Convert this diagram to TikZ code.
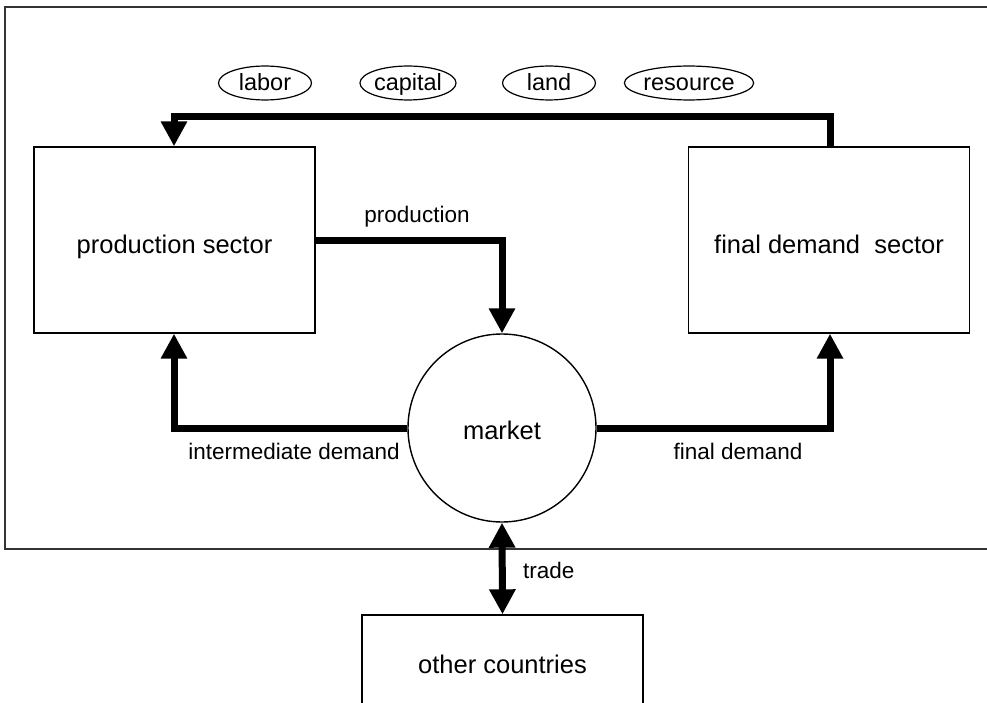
\documentclass[tikz,border=0pt]{standalone}
\usepackage{fontspec}
\setmainfont{Liberation Sans}
\usetikzlibrary{arrows.meta,shapes.geometric}

\tikzset{
  box/.style={draw, line width=1.4pt, minimum width=281pt, minimum height=186pt,
    inner sep=0pt, text height=32pt, text depth=5.5pt,
    font=\fontsize{25.5}{30}\selectfont},
  oval/.style={draw, ellipse, line width=1.2pt, minimum width=93pt, minimum height=33pt,
    inner sep=0pt, text height=20pt, text depth=4pt,
    font=\fontsize{23.5}{27}\selectfont},
  lbl/.style={font=\fontsize{22.5}{27}\selectfont, inner sep=0pt, anchor=base},
  flow/.style={line width=7pt, line join=miter,
    -{Triangle[width=25pt,length=25pt]}},
  flowboth/.style={line width=7pt,
    {Triangle[width=25pt,length=25pt]}-{Triangle[width=25pt,length=25pt]}},
}

\begin{document}
\begin{tikzpicture}[x=1pt,y=-1pt]
\useasboundingbox (0,0) rectangle (987,703);
\clip (0,0) rectangle (987,703);

% outer frame of the economy
\draw[line width=2pt, black!80] (5,7) rectangle (1000,549);

% factor ellipses
\node[oval] (labor) at (265,83) {labor};
\node[oval] (capital) at (408,83) {capital};
\node[oval] (land) at (549,83) {land};
\node[oval] (resource) at (689,83) {resource};

% sectors
\node[box] (prod) at (174.5,240) {production sector};
\node[box] (fin) at (829,240) {final demand\ \ sector};
\node[draw, circle, line width=1.4pt, minimum size=188pt, inner sep=0pt] (mkt) at (502,428) {};
\node[font=\fontsize{25.5}{30}\selectfont, inner sep=0pt, anchor=base] (mktlbl) at (502,439) {market};
\node[box, minimum height=90pt] (oth) at (502.5,660) {other countries};

% routing points
\coordinate (rr) at (830,117);
\coordinate (rl) at (174,117);
\coordinate (pc) at (502,241);

% flows
\draw[flow] (fin.north -| rr) -- (rr) -- (rl) -- (prod.north -| rl);
\draw[flow] (prod.east |- pc) -- (pc) -- (mkt.north);
\draw[flow] (mkt.west) -| (prod.south -| rl);
\draw[flow] (mkt.east) -| (fin.south -| rr);
\draw[flowboth] (mkt.south) -- (oth.north);

% flow labels
\node[lbl] (lprod) at (417,223) {production};
\node[lbl] (linter) at (294,459) {intermediate demand};
\node[lbl] (lfinal) at (738,459) {final demand};
\node[lbl, anchor=base west] (ltrade) at (523,578) {trade};
\end{tikzpicture}
\end{document}
